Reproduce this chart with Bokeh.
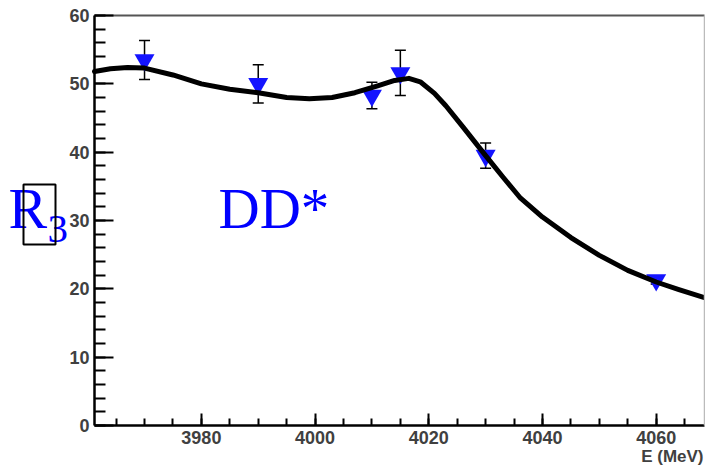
from bokeh.plotting import figure
from bokeh.models import (ColumnDataSource, Whisker, TeeHead, Label, BoxAnnotation,
                          SingleIntervalTicker, FixedTicker, Range1d, LinearAxis)
from bokeh.embed import file_html
from bokeh.resources import INLINE

# --- data ---
energy = [3970, 3990, 4010, 4015, 4030, 4060]
ratio = [53.5, 50.0, 48.3, 51.6, 39.5, 21.3]
ratio_err = [2.85, 2.8, 1.95, 3.3, 1.85, 0.6]

fit_e = [3961.2, 3964, 3967, 3970, 3975, 3980, 3985, 3990, 3995, 3999, 4003, 4007,
         4011, 4014, 4016.5, 4018.5, 4021, 4023, 4026, 4030, 4033, 4036, 4040,
         4045, 4050, 4055, 4060, 4064, 4068.5]
fit_r = [51.8, 52.2, 52.4, 52.3, 51.3, 50.0, 49.2, 48.7, 48.0, 47.8, 48.0, 48.7,
         49.7, 50.5, 50.8, 50.3, 48.6, 46.8, 43.7, 39.5, 36.4, 33.4, 30.5,
         27.5, 24.9, 22.7, 21.0, 19.9, 18.7]

x_label = "E (MeV)"
y_name = "R"
y_sub = "3"
channel = "DD*"

# axis limits of the drawn box
X0, X1, Y0, Y1 = 3961.2, 4068.5, 0, 60
# where that box sits on the canvas (pixels)
FL, FR, FT, FB = 94, 704, 15, 425
W, H = 705, 468
KX = (FR - FL) / (X1 - X0)
KY = (FB - FT) / (Y1 - Y0)


def px_x(sx):
    return X0 + (sx - FL) / KX


def px_y(sy):
    return Y0 + (FB - sy) / KY


# frame spans the whole canvas; axes are pinned inside it
p = figure(width=W, height=H, output_backend="svg", toolbar_location=None,
           x_range=Range1d(px_x(0), px_x(W)), y_range=Range1d(px_y(H), px_y(0)),
           min_border_left=0, min_border_right=0, min_border_top=0, min_border_bottom=0)
p.grid.visible = False
p.background_fill_color = "white"
p.border_fill_color = "white"
p.outline_line_color = None

xax, yax = p.xaxis[0], p.yaxis[0]
for ax in (xax, yax):
    ax.axis_line_color = "black"
    ax.axis_line_width = 2.5
    ax.major_tick_line_color = "black"
    ax.minor_tick_line_color = "black"
    ax.major_tick_line_width = 2
    ax.minor_tick_line_width = 2
    ax.major_tick_out = 0
    ax.minor_tick_out = 0
    ax.major_label_text_font = "Liberation Sans"
    ax.major_label_text_font_style = "bold"
    ax.major_label_text_color = "#404040"
    ax.major_label_text_font_size = "18px"

xax.ticker = SingleIntervalTicker(interval=20, num_minor_ticks=4)
yax.ticker = SingleIntervalTicker(interval=10, num_minor_ticks=5)
xax.bounds = (X0, X1)
yax.bounds = (Y0, Y1)
xax.fixed_location = Y0
yax.fixed_location = X0
xax.major_tick_in = 12
xax.minor_tick_in = 7
yax.major_tick_in = 19
yax.minor_tick_in = 11
xax.major_label_standoff = 5
yax.major_label_standoff = 5

# top and right edges of the box
top_ax = LinearAxis(fixed_location=Y1, bounds=(X0, X1), ticker=FixedTicker(ticks=[]),
                    axis_line_color="#555555", axis_line_width=2,
                    major_tick_in=0, major_tick_out=0, minor_tick_in=0, minor_tick_out=0,
                    major_label_text_color=None)
right_ax = LinearAxis(fixed_location=X1, bounds=(Y0, Y1), ticker=FixedTicker(ticks=[]),
                      axis_line_color="#bbbbbb", axis_line_width=1.5,
                      major_tick_in=0, major_tick_out=0, minor_tick_in=0, minor_tick_out=0,
                      major_label_text_color=None)
p.add_layout(top_ax, "above")
p.add_layout(right_ax, "right")

src = ColumnDataSource(dict(x=energy, y=ratio,
                            lo=[r - e for r, e in zip(ratio, ratio_err)],
                            hi=[r + e for r, e in zip(ratio, ratio_err)]))

p.scatter("x", "y", source=src, marker="inverted_triangle", size=20,
          fill_color="#1414ff", line_color=None)
p.add_layout(Whisker(source=src, base="x", lower="lo", upper="hi",
                     line_color="black", line_width=1.5,
                     upper_head=TeeHead(size=11, line_color="black", line_width=1.5),
                     lower_head=TeeHead(size=11, line_color="black", line_width=1.5)))
p.line(fit_e, fit_r, line_color="black", line_width=5, line_join="round", line_cap="round")

# texts
p.add_layout(Label(x=px_x(8), y=px_y(208), text=y_name,
                   text_font="Liberation Serif", text_font_size="58px",
                   text_color="#0000ff", text_baseline="alphabetic", text_align="left"))
p.add_layout(Label(x=px_x(47), y=px_y(228), text=y_sub,
                   text_font="Liberation Serif", text_font_size="41px",
                   text_color="#0000ff", text_baseline="alphabetic", text_align="left"))
p.add_layout(BoxAnnotation(left=px_x(23), right=px_x(55), top=px_y(184), bottom=px_y(244),
                           fill_alpha=0, line_color="black", line_width=2, line_alpha=1))
p.add_layout(Label(x=px_x(218), y=px_y(208), text=channel,
                   text_font="Liberation Serif", text_font_size="57px",
                   text_color="#0000ff", text_baseline="alphabetic", text_align="left"))
p.add_layout(Label(x=px_x(703), y=px_y(456), text=x_label,
                   text_font="Liberation Sans", text_font_style="bold", text_font_size="17px",
                   text_color="#404040", text_baseline="alphabetic", text_align="right"))

open("out.html", "w").write(file_html(p, INLINE))
